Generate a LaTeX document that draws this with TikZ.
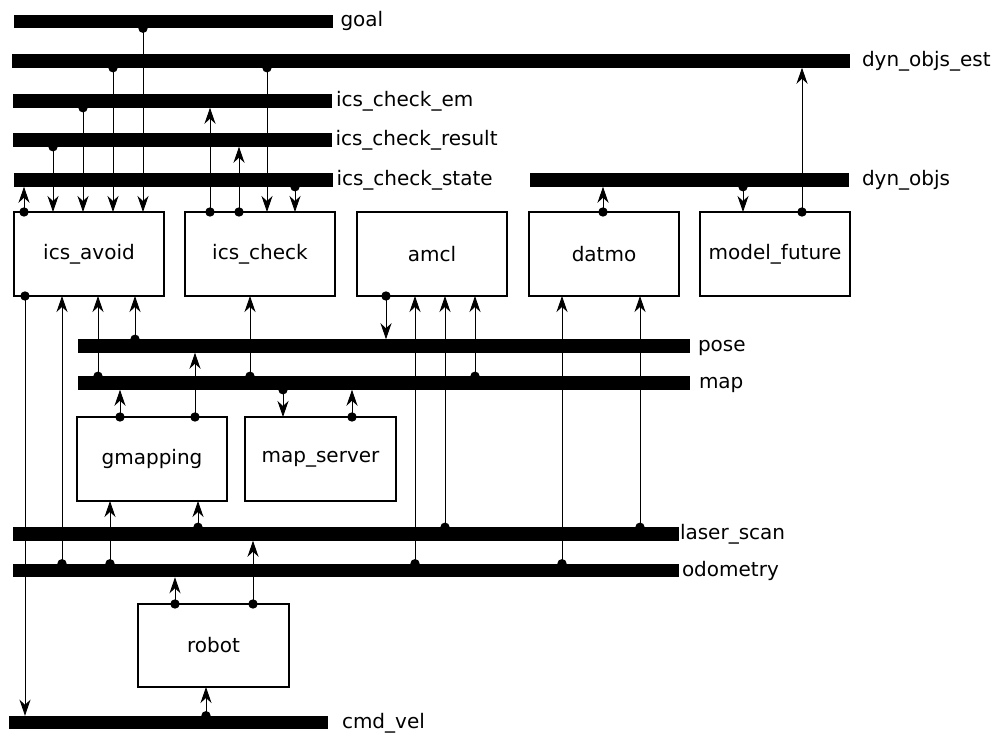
\documentclass[tikz,border=0pt]{standalone}
\usepackage{fontspec}
\setmainfont{DejaVu Sans}
\usetikzlibrary{arrows.meta}
\newcommand\topicbar[6]{%
  \node[topic, minimum width={#3pt-#2pt}, anchor=west] (#1) at (#2,#4) {};
  \node[lbl, anchor=base west] (#1-l) at (#6,#4+5.5) {#5};}
\newcommand\pubsub[3]{%
  \fill (#1,0 |- #2) circle[radius=4.7pt];
  \draw[conn] (#1,0 |- #2) -- (#1,0 |- #3);}
\begin{document}
\begin{tikzpicture}[x=1pt,y=-1pt,
  topic/.style={fill=black, draw=none, inner sep=0pt, outer sep=0pt, minimum height=13.5pt},
  lbl/.style={inner sep=0pt, outer sep=0pt, font=\fontsize{20}{24}\selectfont},
  proc/.style={draw=black, line width=1.2pt, inner sep=0pt, outer sep=0pt,
    minimum width=150pt, minimum height=84pt, anchor=north west,
    font=\fontsize{20}{24}\selectfont},
  conn/.style={line width=0.9pt, -{Stealth[length=16pt,width=11pt,inset=5pt]}}]
\useasboundingbox (0,0) rectangle (996,733);

% topics
\topicbar{goal}{14}{333}{21.5}{goal}{340.5}
\topicbar{dynest}{12}{850}{61}{dyn\_objs\_est}{862}
\topicbar{icsem}{13}{332}{101}{ics\_check\_em}{336}
\topicbar{icsres}{13}{332}{140}{ics\_check\_result}{335.5}
\topicbar{icsstate}{14}{333}{180}{ics\_check\_state}{336.5}
\topicbar{dynobjs}{530}{849}{180}{dyn\_objs}{862}
\topicbar{pose}{78}{690}{346}{pose}{698}
\topicbar{map}{78}{690}{383}{map}{699}
\topicbar{laser}{13}{679}{534}{laser\_scan}{680}
\topicbar{odom}{13}{679}{570.5}{odometry}{682}
\topicbar{cmdvel}{9}{328}{722.5}{cmd\_vel}{342}

% processes
\node[proc] (icsavoid) at (14,212) {ics\_avoid};
\node[proc] (icscheck) at (185,212) {ics\_check};
\node[proc] (amcl) at (357,212) {amcl};
\node[proc] (datmo) at (529,212) {datmo};
\node[proc] (model) at (700,212) {model\_future};
\node[proc] (gmapping) at (77,417) {gmapping};
\node[proc, minimum width=151pt] (mapserver) at (245,417) {map\_server};
\node[proc, minimum width=151pt, minimum height=83pt] (robot) at (138,604) {robot};

% top connections
\pubsub{143}{goal.south}{icsavoid.north}
\pubsub{113}{dynest.south}{icsavoid.north}
\pubsub{83}{icsem.south}{icsavoid.north}
\pubsub{53}{icsres.south}{icsavoid.north}
\pubsub{24}{icsavoid.north}{icsstate.south}
\pubsub{210}{icscheck.north}{icsem.south}
\pubsub{239}{icscheck.north}{icsres.south}
\pubsub{267}{dynest.south}{icscheck.north}
\pubsub{295}{icsstate.south}{icscheck.north}
\pubsub{603}{datmo.north}{dynobjs.south}
\pubsub{743}{dynobjs.south}{model.north}
\pubsub{802}{model.north}{dynest.south}

% middle connections
\pubsub{25}{icsavoid.south}{cmdvel.north}
\pubsub{62}{odom.north}{icsavoid.south}
\pubsub{98}{map.north}{icsavoid.south}
\pubsub{135}{pose.north}{icsavoid.south}
\pubsub{120}{gmapping.north}{map.south}
\pubsub{195}{gmapping.north}{pose.south}
\pubsub{250}{map.north}{icscheck.south}
\pubsub{283}{map.south}{mapserver.north}
\pubsub{352}{mapserver.north}{map.south}
\pubsub{386}{amcl.south}{pose.north}
\pubsub{415}{odom.north}{amcl.south}
\pubsub{445}{laser.north}{amcl.south}
\pubsub{475}{map.north}{amcl.south}
\pubsub{562}{odom.north}{datmo.south}
\pubsub{640}{laser.north}{datmo.south}

% bottom connections
\pubsub{110}{odom.north}{gmapping.south}
\pubsub{198}{laser.north}{gmapping.south}
\pubsub{175}{robot.north}{odom.south}
\pubsub{253}{robot.north}{laser.south}
\pubsub{206}{cmdvel.north}{robot.south}
\end{tikzpicture}
\end{document}
